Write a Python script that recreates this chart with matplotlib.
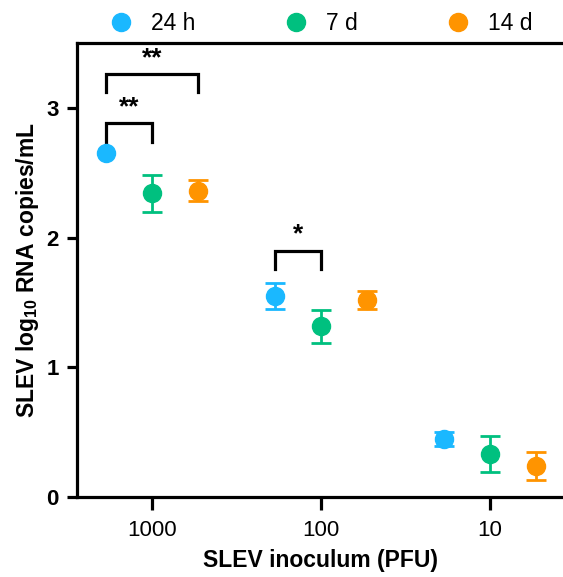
import numpy as np
import matplotlib
matplotlib.use("Agg")
import matplotlib.pyplot as plt
from matplotlib.lines import Line2D

plt.rcParams['font.family'] = ['Liberation Sans', 'DejaVu Sans']
plt.rcParams['mathtext.default'] = 'regular'

# datos
inoculum = [1000, 100, 10]
groups = ['24 h', '7 d', '14 d']
colors = ['#1ab8ff', '#00c07f', '#ff9400']
means = {
    '24 h': [2.65, 1.55, 0.45],
    '7 d': [2.34, 1.315, 0.33],
    '14 d': [2.36, 1.52, 0.24],
}
errs = {
    '24 h': [0.0, 0.10, 0.055],
    '7 d': [0.145, 0.13, 0.14],
    '14 d': [0.08, 0.07, 0.11],
}
# comparaciones significativas: (inoculo, grupo a, grupo b, altura, texto)
sig = [
    (1000, '24 h', '14 d', 3.26, '**'),
    (1000, '24 h', '7 d', 2.88, '**'),
    (100, '24 h', '7 d', 1.90, '*'),
]

dodge = 10 ** (46 / 169)
shift = {'24 h': dodge, '7 d': 1.0, '14 d': 1 / dodge}

fig = plt.figure(figsize=(5.63, 5.77), dpi=100)
ax = fig.add_axes([0.1368, 0.1386, 0.8632, 0.787])

handles = []
for g, c in zip(groups, colors):
    xs = np.array([v * shift[g] for v in inoculum], dtype=float)
    ys = np.array(means[g])
    es = np.array(errs[g])
    con_error = es > 0
    ax.errorbar(xs[con_error], ys[con_error], yerr=es[con_error], fmt='none',
                ecolor=c, elinewidth=2, capsize=7, capthick=2, zorder=2)
    ax.plot(xs, ys, 'o', color=c, ms=13, zorder=3)
    handles.append(Line2D([], [], marker='o', ls='none', color=c, ms=13))

for x0, a, b, h, txt in sig:
    xa = x0 * shift[a]
    xb = x0 * shift[b]
    ax.plot([xa, xa, xb, xb], [h - 0.14, h, h, h - 0.14], color='black',
            lw=2.3, solid_joinstyle='miter')
    ax.text(np.sqrt(xa * xb), h + 0.03, txt, ha='center', va='bottom',
            fontsize=19, fontweight='bold')

ax.set_xscale('log')
ax.set_xlim(10 ** (3 + 75 / 169), 10 ** (1 - 73 / 169))
ax.set_ylim(0, 3.5)
ax.set_xticks(inoculum)
ax.set_xticklabels(['1000', '100', '10'])
ax.minorticks_off()
ax.set_yticks([0, 1, 2, 3])
ax.set_yticklabels(['0', '1', '2', '3'], fontweight='bold')

ax.spines['right'].set_visible(False)
for s in ['left', 'bottom', 'top']:
    ax.spines[s].set_linewidth(2.3)
ax.tick_params(axis='x', length=9.5, width=2.3, labelsize=16, pad=7)
ax.tick_params(axis='y', length=7, width=2.3, labelsize=16, pad=6)

ax.set_xlabel('SLEV inoculum (PFU)', fontsize=16.5, fontweight='bold', labelpad=6)
ax.set_ylabel('SLEV log$_{10}$ RNA copies/mL', fontsize=16.5, fontweight='bold', labelpad=4)

fig.legend(handles, groups, loc='upper center', bbox_to_anchor=(0.57, 1.015), ncol=3,
           frameon=False, fontsize=16.5, handletextpad=0.8, columnspacing=3.9,
           handlelength=1.0)

fig.savefig('out.png', dpi=100)
